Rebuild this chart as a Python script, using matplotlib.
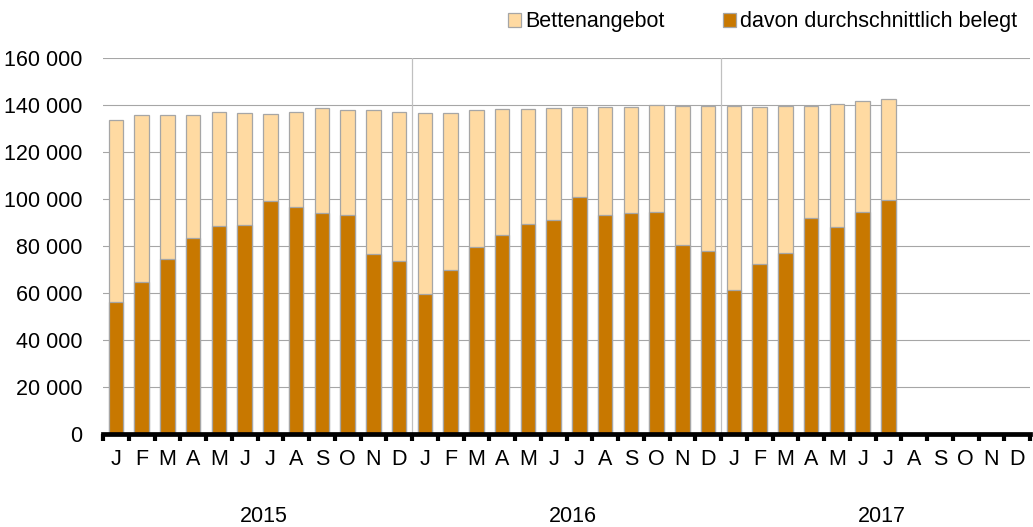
import matplotlib
matplotlib.use("Agg")
import matplotlib.pyplot as plt
from matplotlib.patches import Patch
from matplotlib.ticker import FuncFormatter, MultipleLocator
import numpy as np

plt.rcParams['font.family'] = ['Liberation Sans', 'DejaVu Sans']

years = ["2015", "2016", "2017"]
months = ["J", "F", "M", "A", "M", "J", "J", "A", "S", "O", "N", "D"]

# Bettenangebot (total beds), monthly; 2017 only through July
total_2015 = [133600, 135600, 135600, 135600, 137000, 136600, 136200, 137000, 138700, 137900, 137900, 137200]
total_2016 = [136600, 136700, 137900, 138300, 138300, 138700, 139100, 139300, 139300, 140000, 139700, 139700]
total_2017 = [139600, 139100, 139600, 139600, 140400, 141700, 142600]

# davon durchschnittlich belegt (average occupied)
occ_2015 = [56200, 64800, 74300, 83400, 88500, 88800, 99300, 96600, 94000, 93400, 76400, 73600]
occ_2016 = [59600, 69600, 79400, 84700, 89400, 91100, 100700, 93200, 94000, 94300, 80300, 77700]
occ_2017 = [61300, 72500, 77000, 92000, 88100, 94500, 99700]

legend_labels = ["Bettenangebot", "davon durchschnittlich belegt"]

light = "#FFDAA2"
dark = "#C87800"
edge = "#A6A6A6"
FS = 15.5

fig = plt.figure(figsize=(10.33, 5.27), dpi=100)
ax = fig.add_axes([103/1033, 1 - 434/527, (1030 - 103)/1033, (434 - 58)/527])

totals = total_2015 + total_2016 + total_2017
occs = occ_2015 + occ_2016 + occ_2017
x = np.arange(len(totals))
n_slots = len(years) * len(months)

bw = 0.56
ax.bar(x, totals, width=bw, color=light, edgecolor=edge, linewidth=0.9, zorder=3)
ax.bar(x, occs, width=bw, color=dark, edgecolor=edge, linewidth=0.9, zorder=4)

ax.set_xlim(-0.5, n_slots - 0.5)
ax.set_ylim(0, 160000)

# y axis
ax.yaxis.set_major_locator(MultipleLocator(20000))
ax.yaxis.set_major_formatter(FuncFormatter(lambda v, p: f"{int(v):,}".replace(",", " ")))
ax.tick_params(axis='y', length=0, pad=15, labelsize=FS)
ax.grid(axis='y', color="#A6A6A6", linewidth=0.8, zorder=0)
ax.set_axisbelow(True)

# year separators
for b in range(1, len(years)):
    ax.axvline(b * len(months) - 0.5, color="#C0C0C0", linewidth=0.9, zorder=1)

for s in ["top", "right", "left"]:
    ax.spines[s].set_visible(False)
ax.spines["bottom"].set_linewidth(3.4)
ax.spines["bottom"].set_color("black")
ax.spines["bottom"].set_zorder(5)

# x ticks: marks at boundaries, labels at centers
ax.set_xticks(np.arange(n_slots + 1) - 0.5)
ax.set_xticklabels([])
ax.tick_params(axis='x', which='major', length=5, width=3.0, color='black', direction='out')
ax.set_xticks(np.arange(n_slots), minor=True)
ax.set_xticklabels(months * len(years), minor=True, fontsize=FS)
ax.tick_params(axis='x', which='minor', length=0, pad=11)

# year labels
for i, yr in enumerate(years):
    cx = i * len(months) + (len(months) - 1) / 2 + 0.25
    ax.text(cx, -0.22, yr, transform=ax.get_xaxis_transform(), ha='center', va='center', fontsize=FS)

handles = [Patch(facecolor=light, edgecolor=edge, linewidth=0.9),
           Patch(facecolor=dark, edgecolor=edge, linewidth=0.9)]
fig.legend(handles, legend_labels, loc='center right', bbox_to_anchor=(1017/1033, 1 - 22/527),
           ncol=2, frameon=False, fontsize=FS, handlelength=0.6, handleheight=0.6,
           handletextpad=0.2, columnspacing=2.7, borderpad=0, borderaxespad=0)

fig.savefig("out.png", dpi=100)
